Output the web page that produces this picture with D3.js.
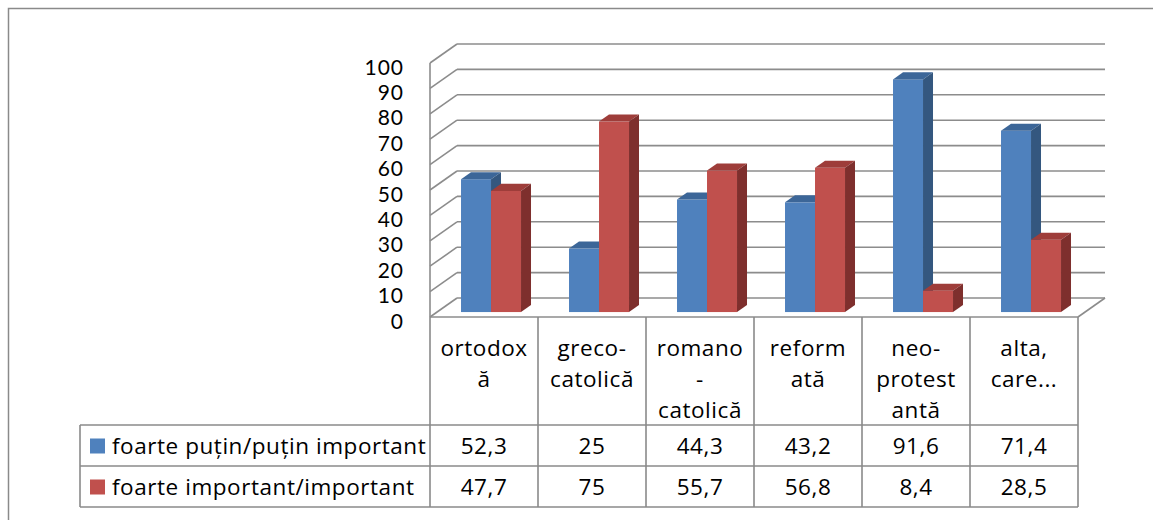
<!DOCTYPE html>
<html><head><meta charset="utf-8">
<script src="https://cdn.jsdelivr.net/npm/d3@7"></script>
<style>body{margin:0;background:#fff}svg{display:block}text{font-family:"Open Sans",Lato,sans-serif;fill:#000}</style>
</head><body>
<svg id="c" width="1153" height="520"></svg>
<script>
const categories = ["ortodoxă","greco-catolică","romano-catolică","reformată","neo-protestantă","alta, care..."];
const categoryLines = [["ortodox","ă"],["greco-","catolică"],["romano","-","catolică"],["reform","ată"],["neo-","protest","antă"],["alta,","care..."]];
const seriesNames = ["foarte puțin/puțin important","foarte important/important"];
const seriesA = [52.3,25,44.3,43.2,91.6,71.4];
const seriesB = [47.7,75,55.7,56.8,8.4,28.5];
const yTicks = [0,10,20,30,40,50,60,70,80,90,100];

const svg = d3.select("#c");
const colors = [{front:"#4F81BD",top:"#3C6698",side:"#34577F"},{front:"#C0504D",top:"#9E3D3A",side:"#7E2F2D"}];
const gridCol = "#8c8c8c";
const fs = "22.5px", ls = "0.55px";

const x = d3.scaleBand().domain(categories).range([430,1078]);
const yF = d3.scaleLinear().domain([0,100]).range([317,63]);
const depth = {dx:27, dy:-19};
const barF = 0.26, barB = 0.63;
const groupW = 60;
const xSub = d3.scaleBand().domain([0,1]).range([0,groupW]);

svg.append("rect").attr("x",8.5).attr("y",8.5).attr("width",1200).attr("height",600)
  .attr("fill","none").attr("stroke","#8a8a8a").attr("stroke-width",1.5);

const g = svg.append("g");
yTicks.forEach(t=>{
  const yb = yF(t)+depth.dy;
  g.append("line").attr("x1",430).attr("y1",yF(t)).attr("x2",430+depth.dx).attr("y2",yb)
    .attr("stroke",gridCol).attr("stroke-width",1.6);
  g.append("line").attr("x1",430+depth.dx).attr("y1",yb).attr("x2",1078+depth.dx).attr("y2",yb)
    .attr("stroke",gridCol).attr("stroke-width",1.6);
});
g.append("line").attr("x1",430).attr("y1",yF(100)).attr("x2",430).attr("y2",yF(0)).attr("stroke",gridCol).attr("stroke-width",1.6);
g.append("line").attr("x1",1078).attr("y1",yF(0)).attr("x2",1078+depth.dx).attr("y2",yF(0)+depth.dy).attr("stroke",gridCol).attr("stroke-width",1.6);

yTicks.forEach(t=>{
  svg.append("text").attr("x",404).attr("y",yF(t)+3).attr("text-anchor","end")
    .attr("dominant-baseline","central").style("font-family","Lato,sans-serif")
    .style("font-size","21px").style("letter-spacing","1px").text(t);
});

const series = [seriesA, seriesB];
const sdx = (barB-barF)*depth.dx, sdy = (barB-barF)*depth.dy;
categories.forEach((c,i)=>{
  series.forEach((s,k)=>{
    const x0 = x(c) + (x.bandwidth()-groupW)/2 + barF*depth.dx + xSub(k);
    const x1 = x0 + xSub.bandwidth();
    const yb = yF(0) + barF*depth.dy;
    const yt = yF(s[i]) + barF*depth.dy;
    const col = colors[k];
    svg.append("rect").attr("x",x0).attr("y",yt).attr("width",x1-x0).attr("height",yb-yt).attr("fill",col.front);
    svg.append("polygon").attr("points",[[x0,yt],[x0+sdx,yt+sdy],[x1+sdx,yt+sdy],[x1,yt]].join(" ")).attr("fill",col.top);
    svg.append("polygon").attr("points",[[x1,yt],[x1+sdx,yt+sdy],[x1+sdx,yb+sdy],[x1,yb]].join(" ")).attr("fill",col.side);
  });
});

svg.append("line").attr("x1",430).attr("y1",yF(0)).attr("x2",1078).attr("y2",yF(0)).attr("stroke",gridCol).attr("stroke-width",1.6);

const tb = svg.append("g").attr("stroke","#8a8a8a").attr("stroke-width",1.6);
const rowY = [425,466,507];
d3.range(categories.length+1).forEach(j=>{
  const xx = j<categories.length ? x(categories[j]) : 1078;
  tb.append("line").attr("x1",xx).attr("y1",yF(0)).attr("x2",xx).attr("y2",rowY[2]);
});
rowY.forEach(yy=>tb.append("line").attr("x1",80).attr("y1",yy).attr("x2",1078).attr("y2",yy));
tb.append("line").attr("x1",80).attr("y1",rowY[0]).attr("x2",80).attr("y2",rowY[2]);

categories.forEach((c,i)=>{
  const cx = x(c)+x.bandwidth()/2;
  categoryLines[i].forEach((ln,j)=>{
    svg.append("text").attr("x",cx).attr("y",347+j*31).attr("text-anchor","middle")
      .attr("dominant-baseline","central").style("font-size",fs).style("letter-spacing",ls).text(ln);
  });
  series.forEach((s,k)=>{
    svg.append("text").attr("x",cx).attr("y",(rowY[k]+rowY[k+1])/2).attr("text-anchor","middle")
      .attr("dominant-baseline","central").style("font-size",fs).style("letter-spacing",ls).text(String(s[i]).replace(".",","));
  });
});
seriesNames.forEach((n,k)=>{
  const cy = (rowY[k]+rowY[k+1])/2;
  svg.append("rect").attr("x",90).attr("y",cy-7).attr("width",15).attr("height",15).attr("fill",colors[k].front);
  svg.append("text").attr("x",112).attr("y",cy).attr("dominant-baseline","central").style("font-size",fs).style("letter-spacing",ls).text(n);
});
</script>
</body></html>
